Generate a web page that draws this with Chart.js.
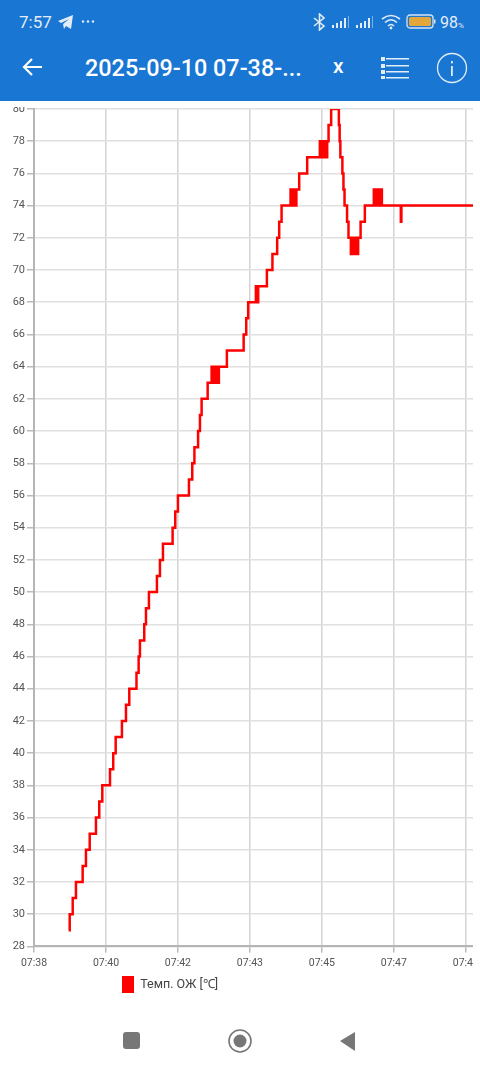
<!DOCTYPE html>
<html>
<head>
<meta charset="utf-8">
<title>Темп. ОЖ</title>
<script src="https://cdn.jsdelivr.net/npm/chart.js@4/dist/chart.umd.min.js"></script>
<style>
html, body { margin: 0; padding: 0; background: #fff; }
body { width: 480px; height: 1069px; position: relative; overflow: hidden; font-family: Roboto, sans-serif; }
#bar { position: absolute; left: 0; top: 0; width: 480px; height: 101px; background: #1976d2; color: #fff; }
#bar div, #bar svg { position: absolute; }
#clock { left: 19px; top: 12px; font-size: 17px; color: #e3edf8; }
#pct { left: 440px; top: 13px; font-size: 16px; color: #e3edf8; }
#pct small { font-size: 8px; }
#title { left: 85px; top: 54px; font-size: 23.4px; font-weight: 500; white-space: nowrap; }
#x { left: 333px; top: 54px; font-size: 21px; font-weight: 500; }
#chartBox { position: absolute; left: 0; top: 107px; }
#nav { position: absolute; left: 0; top: 1020px; }
</style>
</head>
<body>
<div id="bar">
	<div id="clock">7:57</div>
	<svg style="left:58px;top:15px" width="16" height="15" viewBox="0 0 16 15"><path d="M0 6 15 0 13 14 8 11 6 14 5 9 11 4 3 8Z" fill="#e3edf8"/></svg>
	<svg style="left:80px;top:19px" width="16" height="5"><circle cx="3" cy="2.5" r="1.2" fill="#e3edf8"/><circle cx="8" cy="2.5" r="1.2" fill="#e3edf8"/><circle cx="13" cy="2.5" r="1.2" fill="#e3edf8"/></svg>
	<svg style="left:311px;top:13px" width="17" height="18" viewBox="0 0 17 18"><path d="M3 5 13 13 8.500 17V1L13 5 3 13" fill="none" stroke="#e3edf8" stroke-width="1.600"/></svg>
	<svg style="left:331px;top:15px" width="46" height="14"><g fill="#e3edf8"><rect x="1" y="10" width="2" height="3"/><rect x="5" y="8" width="2" height="5"/><rect x="9" y="6" width="2" height="7"/><rect x="13" y="3" width="2" height="10"/><rect x="17" y="1" width="1" height="12" opacity=".5"/><rect x="25" y="10" width="2" height="3"/><rect x="29" y="8" width="2" height="5"/><rect x="33" y="6" width="2" height="7"/><rect x="37" y="3" width="2" height="10"/><rect x="41" y="1" width="1" height="12" opacity=".5"/></g></svg>
	<svg style="left:381px;top:14px" width="20" height="16" viewBox="0 0 20 16"><g fill="none" stroke="#e3edf8" stroke-width="1.600"><path d="M1 5Q10-2 19 5"/><path d="M4 8.500Q10 3 16 8.500"/><path d="M7 12Q10 9 13 12"/></g><circle cx="10" cy="14" r="1.400" fill="#e3edf8"/></svg>
	<svg style="left:406px;top:14px" width="30" height="16"><rect x="1" y="1" width="26" height="13" rx="3" fill="none" stroke="#d6e4f5" stroke-width="1.300"/><rect x="3" y="3" width="22" height="9" rx="1.500" fill="#e3a63a"/><rect x="28" y="5.500" width="1.500" height="4" fill="#d6e4f5"/></svg>
	<div id="pct">98<small>%</small></div>
	<svg style="left:22px;top:57px" width="22" height="20" viewBox="0 0 22 20"><path d="M20 10H2M10 2 2 10 10 18" fill="none" stroke="#fff" stroke-width="2.200"/></svg>
	<div id="title">2025-09-10 07-38-...</div>
	<div id="x">x</div>
	<svg style="left:380px;top:56px" width="30" height="24"><g fill="#e3edf8"><rect x="1" y="1" width="4" height="4"/><rect x="1" y="8" width="4" height="4"/><rect x="1" y="14" width="4" height="4"/><rect x="1" y="20" width="4" height="3"/><rect x="6" y="2" width="23" height="1.500"/><rect x="6" y="9" width="23" height="1.500"/><rect x="6" y="15" width="23" height="1.500"/><rect x="6" y="21" width="23" height="1.500"/></g></svg>
	<svg style="left:436px;top:52px" width="32" height="32"><circle cx="16" cy="16" r="14.500" fill="none" stroke="#e3edf8" stroke-width="1.300"/><rect x="15" y="14" width="1.800" height="10" fill="#e3edf8"/><rect x="15" y="9" width="1.800" height="2.400" fill="#e3edf8"/></svg>
</div>
<div id="chartBox"><canvas id="tempChart" width="473" height="896"></canvas></div>
<svg id="nav" width="480" height="49">
	<rect x="123" y="12" width="17" height="17" rx="3" fill="#777"/>
	<circle cx="240" cy="21" r="11" fill="none" stroke="#777" stroke-width="1.600"/>
	<circle cx="240" cy="21" r="6.500" fill="#777"/>
	<path d="M355 12V31L340 21Z" fill="#777"/>
</svg>
<script>
// seconds since the left edge of the axis, one entry per change of the reading
var seconds = [
	48.2, 49.6, 53.8, 58.3, 67.6, 72.2, 77.4, 86.1, 90.7, 94.9,
	105.6, 110.1, 113.5, 122.2, 127.8, 132.4, 142.4, 145.4, 147.2, 153.2,
	155.6, 159.7, 170.8, 175, 179.2, 192.6, 196.3, 200, 215.3, 219.9,
	222.9, 228, 230.6, 232.9, 241.3,
	246.8, 248.4, 250, 251.6, 253.2, 254.8, 256.9,
	268, 291.3, 294.9, 297.6,
	308.3, 309.8, 311.5,
	323.6, 331.3, 337.9, 340.7, 344,
	356.5, 358, 359.5, 361, 362.5, 364, 364.6,
	368.5, 379.6,
	397.2, 398.8, 400.4, 402, 403.6, 405.2, 407.4,
	409.3, 412.9,
	423.6, 424.7, 425.7, 428.5, 430, 431.5, 435, 437,
	440.3, 442, 443.6, 445.2, 446.8, 448.4, 449.4, 450.4,
	453.8, 459.7,
	472.2, 473.8, 475.4, 477, 478.6, 480.2, 481.8, 483.4,
	509.7, 510.5, 615
];
var temps = [
	29, 30, 31, 32, 33, 34, 35, 36, 37, 38,
	39, 40, 41, 42, 43, 44, 45, 46, 47, 48,
	49, 50, 51, 52, 53, 54, 55, 56, 57, 58,
	59, 60, 61, 62, 63,
	64, 63, 64, 63, 64, 63, 64,
	65, 66, 67, 68,
	69, 68, 69,
	70, 71, 72, 73, 74,
	75, 74, 75, 74, 75, 74, 75,
	76, 77,
	78, 77, 78, 77, 78, 77, 78,
	79, 80,
	79, 78, 77, 76, 75, 74, 73, 72,
	71, 72, 71, 72, 71, 72, 71, 72,
	73, 74,
	75, 74, 75, 74, 75, 74, 75, 74,
	73, 74, 74
];
var tickSeconds = [0, 100, 200, 300, 400, 500, 600];
var timeLabels = ["07:38", "07:40", "07:42", "07:43", "07:45", "07:47", "07:48"];
var seriesName = "Темп. ОЖ [℃]";

var points = [];
for (var i = 0; i < seconds.length; i++) {
	points.push({x: seconds[i], y: temps[i]});
}

// the legend sits off centre in the app, so move it after layout
var legendShift = {
	id: "legendShift",
	afterLayout: function(chart) {
		chart.legend.left = 121;
	}
};

var tempChart = new Chart("tempChart", {
	type: "line",
	data: {
		datasets: [{
			label: seriesName,
			data: points,
			stepped: true,
			backgroundColor: "#ff0000",
			borderColor: "#ff0000",
			borderWidth: 2.5,
			borderJoinStyle: "miter",
			pointRadius: 0
		}]
	},
	plugins: [legendShift],
	options: {
		responsive: false,
		animation: false,
		layout: { autoPadding: false, padding: { top: 2 } },
		plugins: {
			tooltip: { enabled: false },
			legend: {
				position: "bottom",
				align: "start",
				labels: {
					boxWidth: 12,
					boxHeight: 17,
					padding: 1,
					color: "#444",
					font: { family: "Roboto", size: 12.5 },
					generateLabels: function(chart) {
						var items = Chart.defaults.plugins.legend.labels.generateLabels(chart);
						items.forEach(function(item) { item.lineWidth = 0; });
						return items;
					}
				}
			}
		},
		scales: {
			x: {
				type: "linear",
				bounds: "data",
				min: 0,
				max: 610,
				afterBuildTicks: function(s) {
					s.ticks = tickSeconds.map(function(v) { return {value: v}; });
				},
				afterFit: function(s) { s.paddingLeft = 0; s.paddingRight = 0; },
				grid: { color: "#d4d4d4", lineWidth: 1.5, tickLength: 6, tickColor: "#bbb" },
				border: { color: "#b5b5b5", width: 2 },
				ticks: {
					maxRotation: 0,
					autoSkip: false,
					padding: 5,
					color: "#555",
					font: { family: "Roboto", size: 10.5 },
					callback: function(v, idx) { return timeLabels[idx]; }
				}
			},
			y: {
				min: 28,
				max: 80,
				afterFit: function(s) { s.width = 34; s.paddingTop = 0; s.paddingBottom = 0; },
				grid: { color: "#e0e0e0", lineWidth: 1.5, tickLength: 7, tickColor: "#bbb" },
				border: { color: "#b5b5b5", width: 2 },
				ticks: {
					stepSize: 2,
					autoSkip: false,
					padding: 2,
					color: "#555",
					font: { family: "Roboto", size: 11 }
				}
			}
		}
	}
});
</script>
</body>
</html>
